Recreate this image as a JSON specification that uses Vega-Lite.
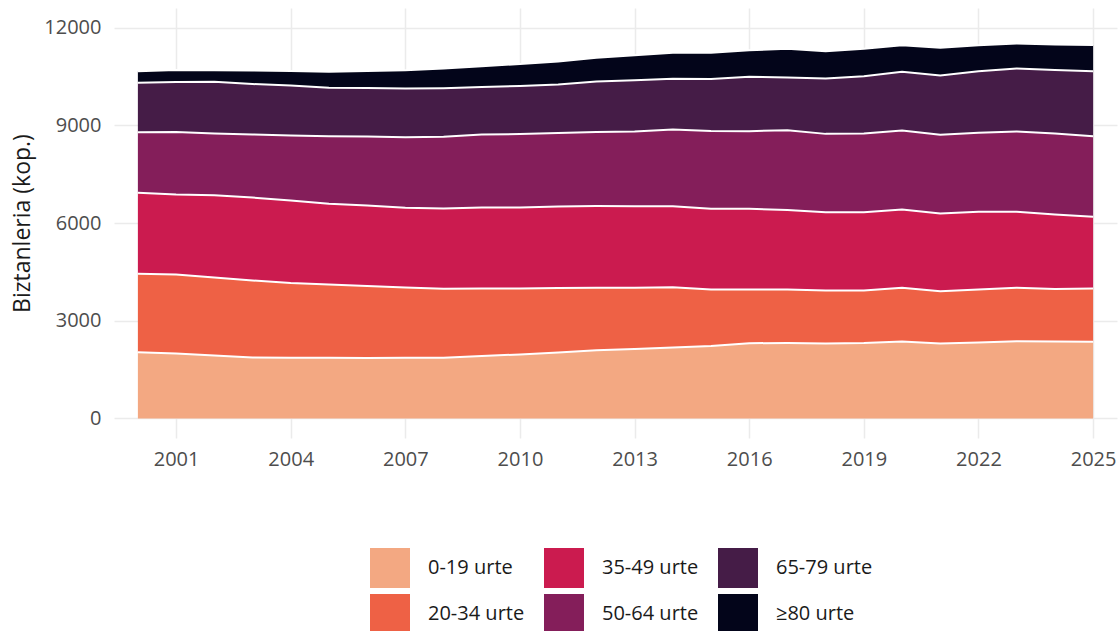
{
  "$schema": "https://vega.github.io/schema/vega-lite/v6.json",
  "width": 1003,
  "height": 430,
  "autosize": {"type": "none"},
  "padding": {"left": 114, "top": 8, "right": 1, "bottom": 193},
  "config": {
    "font": "Open Sans",
    "view": {"stroke": null},
    "axis": {"grid": true, "gridColor": "#EBEBEB", "gridWidth": 1.5, "domain": false, "ticks": false, "labelColor": "#4D4D4D", "labelFontSize": 20, "titleColor": "#1A1A1A", "titleFontSize": 23, "titleFontWeight": "normal"},
    "legend": {"labelColor": "#1A1A1A"}
  },
  "data": {"values": [
    {"year":2000,"group":"0-19 urte","value":2030},{"year":2001,"group":"0-19 urte","value":1995},{"year":2002,"group":"0-19 urte","value":1933},{"year":2003,"group":"0-19 urte","value":1870},{"year":2004,"group":"0-19 urte","value":1865},{"year":2005,"group":"0-19 urte","value":1862},{"year":2006,"group":"0-19 urte","value":1857},{"year":2007,"group":"0-19 urte","value":1860},{"year":2008,"group":"0-19 urte","value":1862},{"year":2009,"group":"0-19 urte","value":1918},{"year":2010,"group":"0-19 urte","value":1964},{"year":2011,"group":"0-19 urte","value":2026},{"year":2012,"group":"0-19 urte","value":2090},{"year":2013,"group":"0-19 urte","value":2135},{"year":2014,"group":"0-19 urte","value":2180},{"year":2015,"group":"0-19 urte","value":2225},{"year":2016,"group":"0-19 urte","value":2310},{"year":2017,"group":"0-19 urte","value":2317},{"year":2018,"group":"0-19 urte","value":2300},{"year":2019,"group":"0-19 urte","value":2317},{"year":2020,"group":"0-19 urte","value":2360},{"year":2021,"group":"0-19 urte","value":2302},{"year":2022,"group":"0-19 urte","value":2330},{"year":2023,"group":"0-19 urte","value":2373},{"year":2024,"group":"0-19 urte","value":2363},{"year":2025,"group":"0-19 urte","value":2354},
    {"year":2000,"group":"20-34 urte","value":2411},{"year":2001,"group":"20-34 urte","value":2424},{"year":2002,"group":"20-34 urte","value":2394},{"year":2003,"group":"20-34 urte","value":2365},{"year":2004,"group":"20-34 urte","value":2293},{"year":2005,"group":"20-34 urte","value":2250},{"year":2006,"group":"20-34 urte","value":2209},{"year":2007,"group":"20-34 urte","value":2160},{"year":2008,"group":"20-34 urte","value":2118},{"year":2009,"group":"20-34 urte","value":2072},{"year":2010,"group":"20-34 urte","value":2026},{"year":2011,"group":"20-34 urte","value":1979},{"year":2012,"group":"20-34 urte","value":1925},{"year":2013,"group":"20-34 urte","value":1876},{"year":2014,"group":"20-34 urte","value":1850},{"year":2015,"group":"20-34 urte","value":1734},{"year":2016,"group":"20-34 urte","value":1649},{"year":2017,"group":"20-34 urte","value":1642},{"year":2018,"group":"20-34 urte","value":1628},{"year":2019,"group":"20-34 urte","value":1611},{"year":2020,"group":"20-34 urte","value":1651},{"year":2021,"group":"20-34 urte","value":1605},{"year":2022,"group":"20-34 urte","value":1629},{"year":2023,"group":"20-34 urte","value":1638},{"year":2024,"group":"20-34 urte","value":1611},{"year":2025,"group":"20-34 urte","value":1636},
    {"year":2000,"group":"35-49 urte","value":2486},{"year":2001,"group":"35-49 urte","value":2456},{"year":2002,"group":"35-49 urte","value":2526},{"year":2003,"group":"35-49 urte","value":2547},{"year":2004,"group":"35-49 urte","value":2532},{"year":2005,"group":"35-49 urte","value":2477},{"year":2006,"group":"35-49 urte","value":2471},{"year":2007,"group":"35-49 urte","value":2446},{"year":2008,"group":"35-49 urte","value":2465},{"year":2009,"group":"35-49 urte","value":2486},{"year":2010,"group":"35-49 urte","value":2486},{"year":2011,"group":"35-49 urte","value":2502},{"year":2012,"group":"35-49 urte","value":2505},{"year":2013,"group":"35-49 urte","value":2505},{"year":2014,"group":"35-49 urte","value":2486},{"year":2015,"group":"35-49 urte","value":2477},{"year":2016,"group":"35-49 urte","value":2477},{"year":2017,"group":"35-49 urte","value":2441},{"year":2018,"group":"35-49 urte","value":2404},{"year":2019,"group":"35-49 urte","value":2404},{"year":2020,"group":"35-49 urte","value":2403},{"year":2021,"group":"35-49 urte","value":2384},{"year":2022,"group":"35-49 urte","value":2383},{"year":2023,"group":"35-49 urte","value":2331},{"year":2024,"group":"35-49 urte","value":2286},{"year":2025,"group":"35-49 urte","value":2200},
    {"year":2000,"group":"50-64 urte","value":1860},{"year":2001,"group":"50-64 urte","value":1918},{"year":2002,"group":"50-64 urte","value":1894},{"year":2003,"group":"50-64 urte","value":1934},{"year":2004,"group":"50-64 urte","value":1995},{"year":2005,"group":"50-64 urte","value":2075},{"year":2006,"group":"50-64 urte","value":2118},{"year":2007,"group":"50-64 urte","value":2168},{"year":2008,"group":"50-64 urte","value":2200},{"year":2009,"group":"50-64 urte","value":2240},{"year":2010,"group":"50-64 urte","value":2255},{"year":2011,"group":"50-64 urte","value":2255},{"year":2012,"group":"50-64 urte","value":2270},{"year":2013,"group":"50-64 urte","value":2294},{"year":2014,"group":"50-64 urte","value":2353},{"year":2015,"group":"50-64 urte","value":2387},{"year":2016,"group":"50-64 urte","value":2382},{"year":2017,"group":"50-64 urte","value":2449},{"year":2018,"group":"50-64 urte","value":2404},{"year":2019,"group":"50-64 urte","value":2415},{"year":2020,"group":"50-64 urte","value":2425},{"year":2021,"group":"50-64 urte","value":2415},{"year":2022,"group":"50-64 urte","value":2425},{"year":2023,"group":"50-64 urte","value":2466},{"year":2024,"group":"50-64 urte","value":2487},{"year":2025,"group":"50-64 urte","value":2474},
    {"year":2000,"group":"65-79 urte","value":1516},{"year":2001,"group":"65-79 urte","value":1535},{"year":2002,"group":"65-79 urte","value":1587},{"year":2003,"group":"65-79 urte","value":1550},{"year":2004,"group":"65-79 urte","value":1535},{"year":2005,"group":"65-79 urte","value":1486},{"year":2006,"group":"65-79 urte","value":1489},{"year":2007,"group":"65-79 urte","value":1494},{"year":2008,"group":"65-79 urte","value":1494},{"year":2009,"group":"65-79 urte","value":1458},{"year":2010,"group":"65-79 urte","value":1474},{"year":2011,"group":"65-79 urte","value":1489},{"year":2012,"group":"65-79 urte","value":1550},{"year":2013,"group":"65-79 urte","value":1570},{"year":2014,"group":"65-79 urte","value":1556},{"year":2015,"group":"65-79 urte","value":1597},{"year":2016,"group":"65-79 urte","value":1669},{"year":2017,"group":"65-79 urte","value":1621},{"year":2018,"group":"65-79 urte","value":1699},{"year":2019,"group":"65-79 urte","value":1760},{"year":2020,"group":"65-79 urte","value":1801},{"year":2021,"group":"65-79 urte","value":1821},{"year":2022,"group":"65-79 urte","value":1893},{"year":2023,"group":"65-79 urte","value":1934},{"year":2024,"group":"65-79 urte","value":1953},{"year":2025,"group":"65-79 urte","value":1996},
    {"year":2000,"group":"≥80 urte","value":357},{"year":2001,"group":"≥80 urte","value":368},{"year":2002,"group":"≥80 urte","value":356},{"year":2003,"group":"≥80 urte","value":414},{"year":2004,"group":"≥80 urte","value":445},{"year":2005,"group":"≥80 urte","value":490},{"year":2006,"group":"≥80 urte","value":521},{"year":2007,"group":"≥80 urte","value":562},{"year":2008,"group":"≥80 urte","value":603},{"year":2009,"group":"≥80 urte","value":639},{"year":2010,"group":"≥80 urte","value":675},{"year":2011,"group":"≥80 urte","value":706},{"year":2012,"group":"≥80 urte","value":735},{"year":2013,"group":"≥80 urte","value":770},{"year":2014,"group":"≥80 urte","value":799},{"year":2015,"group":"≥80 urte","value":804},{"year":2016,"group":"≥80 urte","value":815},{"year":2017,"group":"≥80 urte","value":876},{"year":2018,"group":"≥80 urte","value":838},{"year":2019,"group":"≥80 urte","value":839},{"year":2020,"group":"≥80 urte","value":816},{"year":2021,"group":"≥80 urte","value":850},{"year":2022,"group":"≥80 urte","value":796},{"year":2023,"group":"≥80 urte","value":766},{"year":2024,"group":"≥80 urte","value":778},{"year":2025,"group":"≥80 urte","value":807}
  ]},
  "transform": [
    {"stack": "value", "groupby": ["year"], "sort": [{"field": "group", "order": "ascending"}], "as": ["y0", "y1"]}
  ],
  "encoding": {
    "x": {"field": "year", "type": "quantitative", "scale": {"domain": [1999.375, 2025.625], "nice": false, "zero": false},
      "axis": {"title": null, "values": [2001, 2004, 2007, 2010, 2013, 2016, 2019, 2022, 2025], "format": "d", "labelPadding": 11}}
  },
  "layer": [
    {
      "mark": {"type": "area", "opacity": 1},
      "encoding": {
        "y": {"field": "y1", "type": "quantitative", "scale": {"domain": [-600, 12600], "nice": false, "zero": false},
          "axis": {"title": "Biztanleria (kop.)", "titleFontSize": 23, "titleFont": "Open Sans", "titleFontWeight": "normal", "titleColor": "#1A1A1A", "values": [0, 3000, 6000, 9000, 12000], "format": "d", "labelPadding": 13, "titlePadding": 9}},
        "y2": {"field": "y0"},
        "color": {"field": "group", "type": "nominal",
          "scale": {"domain": ["0-19 urte", "35-49 urte", "65-79 urte", "20-34 urte", "50-64 urte", "≥80 urte"],
                    "range": ["#F3A882", "#CB1B4F", "#451C47", "#EE6145", "#841E5A", "#03051A"]},
          "legend": {"title": null, "orient": "none", "legendX": 256, "legendY": 540, "direction": "horizontal", "columns": 3, "symbolType": "square", "symbolSize": 1600, "symbolStrokeWidth": 0, "symbolOpacity": 1, "labelFontSize": 20, "labelOffset": 18, "rowPadding": 6, "columnPadding": 19}}
      }
    },
    {
      "mark": {"type": "line", "color": "white", "strokeWidth": 2},
      "encoding": {
        "y": {"field": "y1", "type": "quantitative"},
        "detail": {"field": "group"}
      }
    }
  ]
}
